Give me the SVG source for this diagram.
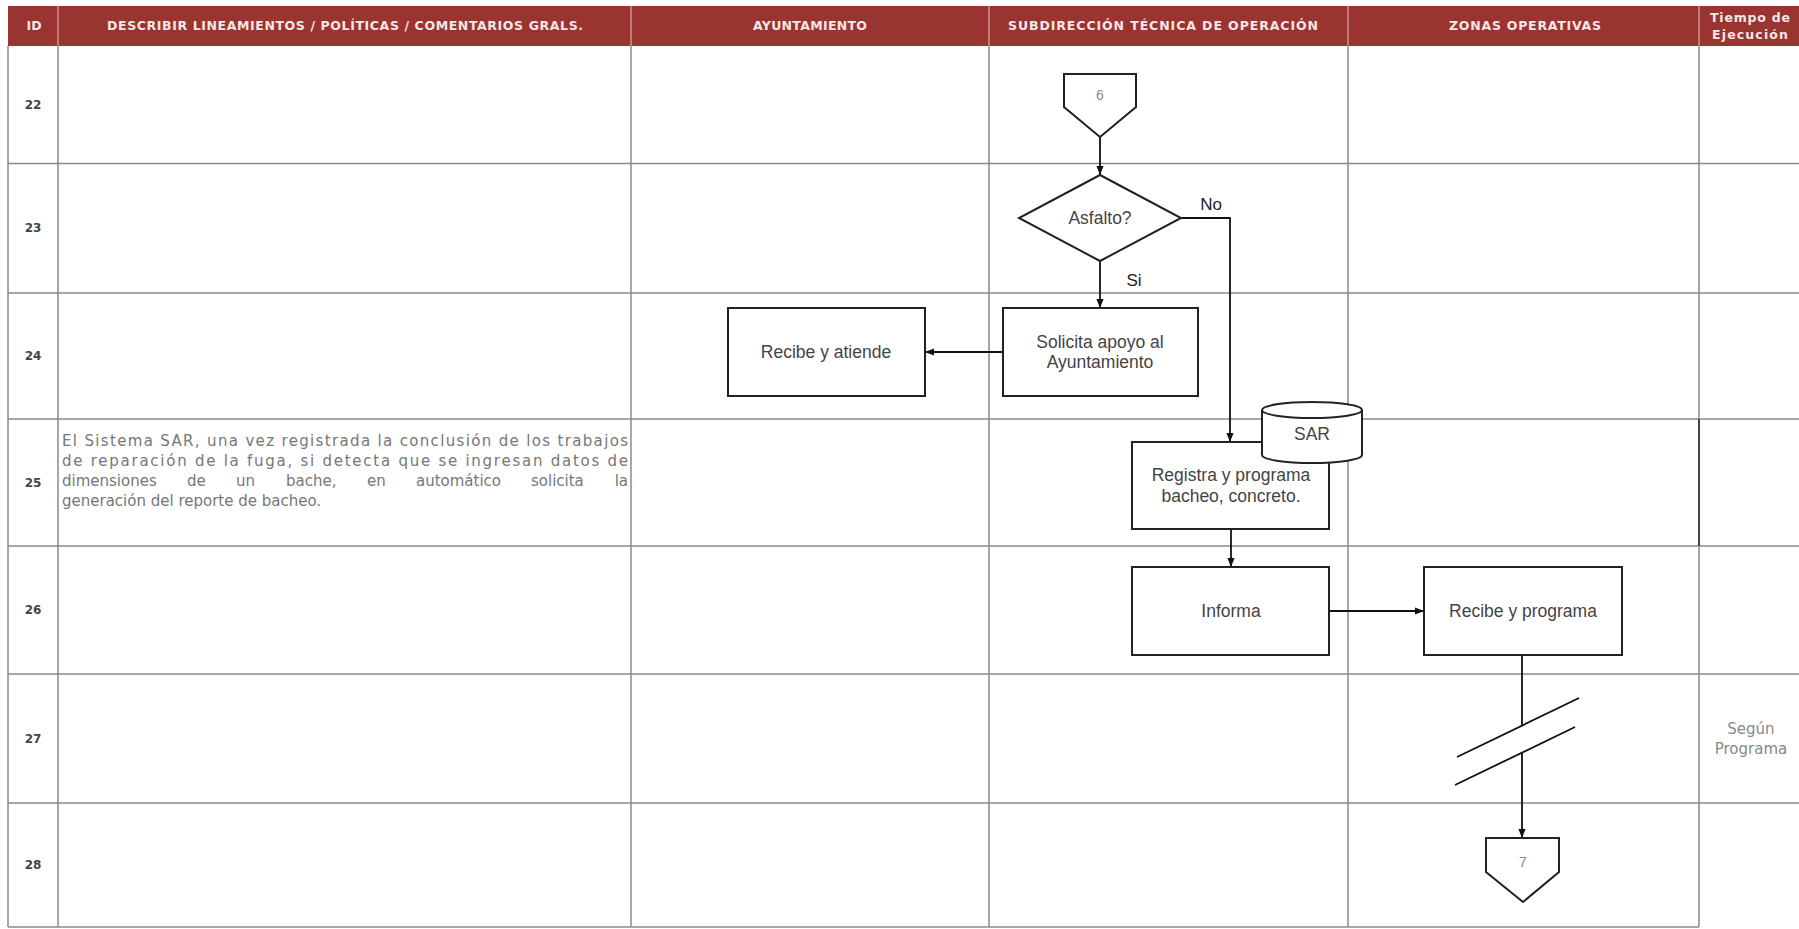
<svg xmlns="http://www.w3.org/2000/svg" width="1799" height="929" viewBox="0 0 1799 929">
<defs>
<marker id="arr" viewBox="0 0 10 10" refX="10" refY="5" markerWidth="10" markerHeight="9" orient="auto" markerUnits="userSpaceOnUse">
<path d="M0,1 L10,5 L0,9 z" fill="#111"/>
</marker>
<style>
.grid{stroke:#8a8a8a;stroke-width:1.5;fill:none}
.hsep{stroke:#c79592;stroke-width:1.5}
.hd{font-family:"DejaVu Sans",sans-serif;font-weight:bold;font-size:12.5px;fill:#f6e6e6;text-anchor:middle}
.id{font-family:"DejaVu Sans",sans-serif;font-weight:bold;font-size:12px;fill:#444;text-anchor:middle}
.box{fill:#fff;stroke:#222;stroke-width:2}
.lbl{font-family:"Liberation Sans",Arial,sans-serif;font-size:17.5px;fill:#444;text-anchor:middle}
.yn{font-family:"Liberation Sans",Arial,sans-serif;font-size:17px;fill:#222;text-anchor:middle}
.num{font-family:"Liberation Sans",Arial,sans-serif;font-size:14px;fill:#888;text-anchor:middle}
.edge{stroke:#111;stroke-width:1.8;fill:none}
.desc{font-family:"DejaVu Sans",sans-serif;font-size:15px;fill:#777}
.time{font-family:"DejaVu Sans",sans-serif;font-size:15px;fill:#888;text-anchor:middle}
</style>
</defs>
<rect width="1799" height="929" fill="#fff"/>

<g id="table">
<rect x="8" y="6" width="1791" height="40" fill="#9a3430"/>
<line class="hsep" x1="58" y1="6" x2="58" y2="46"/>
<line class="hsep" x1="631" y1="6" x2="631" y2="46"/>
<line class="hsep" x1="989" y1="6" x2="989" y2="46"/>
<line class="hsep" x1="1348" y1="6" x2="1348" y2="46"/>
<line class="hsep" x1="1699" y1="6" x2="1699" y2="46"/>
<text class="hd" x="34" y="30">ID</text>
<text class="hd" x="345" y="30" textLength="476">DESCRIBIR LINEAMIENTOS / POLÍTICAS / COMENTARIOS GRALS.</text>
<text class="hd" x="810" y="30" textLength="114">AYUNTAMIENTO</text>
<text class="hd" x="1163" y="30" textLength="310">SUBDIRECCIÓN TÉCNICA DE OPERACIÓN</text>
<text class="hd" x="1525" y="30" textLength="152">ZONAS OPERATIVAS</text>
<text class="hd" x="1750" y="22" textLength="80">Tiempo de</text>
<text class="hd" x="1750" y="39" textLength="76">Ejecución</text>
<g class="grid">
<line x1="8" y1="46" x2="8" y2="927"/>
<line x1="58" y1="46" x2="58" y2="927"/>
<line x1="631" y1="46" x2="631" y2="927"/>
<line x1="989" y1="46" x2="989" y2="927"/>
<line x1="1348" y1="46" x2="1348" y2="927"/>
<line x1="1699" y1="46" x2="1699" y2="927"/>
<line x1="8" y1="163.5" x2="1799" y2="163.5"/>
<line x1="8" y1="293" x2="1799" y2="293"/>
<line x1="8" y1="419" x2="1799" y2="419"/>
<line x1="8" y1="546" x2="1799" y2="546"/>
<line x1="8" y1="674" x2="1799" y2="674"/>
<line x1="8" y1="803" x2="1799" y2="803"/>
<line x1="8" y1="927" x2="1699" y2="927"/>
</g>
<line x1="1699" y1="419" x2="1699" y2="546" stroke="#444" stroke-width="2"/>
<text class="id" x="33" y="109">22</text>
<text class="id" x="33" y="232">23</text>
<text class="id" x="33" y="360">24</text>
<text class="id" x="33" y="487">25</text>
<text class="id" x="33" y="614">26</text>
<text class="id" x="33" y="743">27</text>
<text class="id" x="33" y="869">28</text>
</g>

<g id="desc25">
<text class="desc" x="62" y="446" textLength="566" lengthAdjust="spacing">El Sistema SAR, una vez registrada la conclusión de los trabajos</text>
<text class="desc" x="62" y="466" textLength="566" lengthAdjust="spacing">de reparación de la fuga, si detecta que se ingresan datos de</text>
<text class="desc" y="486"><tspan x="62">dimensiones</tspan><tspan x="187">de</tspan><tspan x="236">un</tspan><tspan x="286">bache,</tspan><tspan x="367">en</tspan><tspan x="416">automático</tspan><tspan x="531">solicita</tspan></text>
<text class="desc" x="628" y="486" text-anchor="end">la</text>
<text class="desc" x="62" y="506">generación del reporte de bacheo.</text>
</g>

<g id="time27">
<text class="time" x="1751" y="734">Según</text>
<text class="time" x="1751" y="754">Programa</text>
</g>

<g id="connectors">
<path class="edge" d="M1100,137 V175" marker-end="url(#arr)"/>
<path class="edge" d="M1100,261 V308" marker-end="url(#arr)"/>
<path class="edge" d="M1181,218 H1230 V442" marker-end="url(#arr)"/>
<path class="edge" d="M1003,352 H925" marker-end="url(#arr)"/>
<path class="edge" d="M1231,529 V567" marker-end="url(#arr)"/>
<path class="edge" d="M1329,611 H1424" marker-end="url(#arr)"/>
<path class="edge" d="M1522,655 V726"/>
<path class="edge" d="M1522,753 V838" marker-end="url(#arr)"/>
<path class="edge" d="M1457,757 L1579,698"/>
<path class="edge" d="M1455,785 L1575,727"/>
<text class="yn" x="1211" y="210">No</text>
<text class="yn" x="1134" y="286">Si</text>
</g>

<g id="conn6">
<polygon class="box" points="1064,74 1136,74 1136,107 1100,137 1064,107"/>
<text class="num" x="1100" y="100">6</text>
</g>

<g id="asfalto">
<polygon class="box" points="1100,175 1181,218 1100,261 1019,218"/>
<text class="lbl" x="1100" y="224">Asfalto?</text>
</g>

<g id="solicita">
<rect class="box" x="1003" y="308" width="195" height="88"/>
<text class="lbl" x="1100" y="348">Solicita apoyo al</text>
<text class="lbl" x="1100" y="368">Ayuntamiento</text>
</g>

<g id="recibe-atiende">
<rect class="box" x="728" y="308" width="197" height="88"/>
<text class="lbl" x="826" y="358">Recibe y atiende</text>
</g>

<g id="registra">
<rect class="box" x="1132" y="442" width="197" height="87"/>
<text class="lbl" x="1231" y="481">Registra y programa</text>
<text class="lbl" x="1231" y="502">bacheo, concreto.</text>
</g>

<g id="sar">
<path class="box" d="M1262,410 A50,8 0 0 1 1362,410 V455 A50,8 0 0 1 1262,455 Z"/>
<path d="M1262,410 A50,8 0 0 0 1362,410" fill="none" stroke="#222" stroke-width="2"/>
<text class="lbl" x="1312" y="440" font-size="15">SAR</text>
</g>

<g id="informa">
<rect class="box" x="1132" y="567" width="197" height="88"/>
<text class="lbl" x="1231" y="617">Informa</text>
</g>

<g id="recibe-programa">
<rect class="box" x="1424" y="567" width="198" height="88"/>
<text class="lbl" x="1523" y="617">Recibe y programa</text>
</g>

<g id="conn7">
<polygon class="box" points="1486,838 1559,838 1559,872 1523,902 1486,872"/>
<text class="num" x="1523" y="867">7</text>
</g>
</svg>
